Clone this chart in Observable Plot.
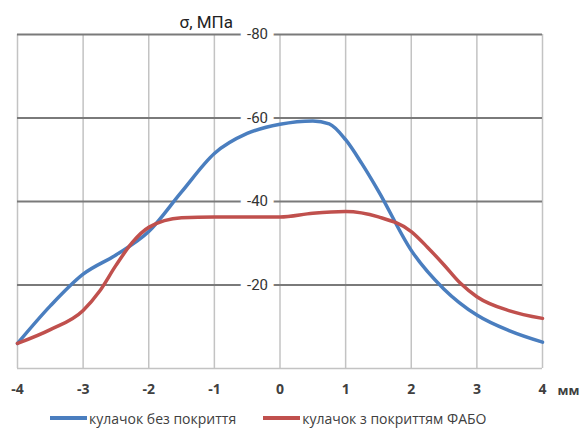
<!DOCTYPE html>
<html>
<head>
<meta charset="utf-8">
<script src="https://cdn.jsdelivr.net/npm/d3@7"></script>
<script src="https://cdn.jsdelivr.net/npm/@observablehq/plot@0.6"></script>
<style>
  body { margin: 0; background: #fff; }
  #legend { height: 36px; display: flex; align-items: center; padding-left: 50px; font-family: "Open Sans", "Noto Sans", sans-serif; font-size: 14px; color: #404040; }
  .item { display: flex; align-items: center; margin-right: 27px; }
  .sw { width: 37px; height: 4px; margin-right: 2px; }
</style>
</head>
<body>
<div id="chart"></div>
<div id="legend"></div>
<script>
// Series names
const seriesNames = ["кулачок без покриття", "кулачок з покриттям ФАБО"];
const seriesColors = ["#4a7ebf", "#c0504d"];

// Blue: кулачок без покриття
const blueX = [-4, -3.5, -3, -2.5, -2, -1.5, -1, -0.5, 0, 0.5, 0.75, 1, 1.25, 1.5, 2, 2.5, 3, 3.5, 4];
const blueY = [-6, -15, -22.6, -27.2, -32.8, -42.3, -51.5, -56.3, -58.5, -59.3, -58.6, -54.8, -49, -42.5, -28.3, -19, -12.8, -9, -6.3];

// Red: кулачок з покриттям ФАБО
const redX = [-4, -3.5, -3, -2.75, -2.5, -2.25, -2, -1.5, -1, -0.5, 0, 0.5, 1, 1.5, 2, 2.25, 2.5, 2.75, 3, 3.5, 4];
const redY = [-6, -9.3, -13.9, -18.5, -24.7, -30.2, -33.8, -36.1, -36.3, -36.3, -36.3, -37.2, -37.6, -36.3, -32.8, -29, -24.8, -20.4, -17.2, -13.8, -12];

// Ticks
const xTicks = [-4, -3, -2, -1, 0, 1, 2, 3, 4];
const yTicks = [-80, -60, -40, -20];
const yTitle = "σ, МПа";
const xUnit = "мм";

const blue = blueX.map((x, i) => ({x, y: blueY[i]}));
const red = redX.map((x, i) => ({x, y: redY[i]}));

const chart = Plot.plot({
  width: 583,
  height: 400,
  marginLeft: 17,
  marginRight: 41,
  marginTop: 34,
  marginBottom: 32,
  x: {domain: [-4, 4]},
  y: {domain: [0, -80], axis: null},
  style: {fontFamily: "Roboto, 'Liberation Sans', sans-serif", background: "#fff", overflow: "visible"},
  marks: [
    Plot.ruleX(xTicks, {stroke: "#c3c3c3", strokeWidth: 1.5}),
    Plot.ruleY([0], {stroke: "#c3c3c3", strokeWidth: 1.5}),
    Plot.ruleY(yTicks, {stroke: "#7a7a7a", strokeWidth: 2}),
    Plot.text(yTicks, {x: () => 0, y: d => d, text: d => String(d), textAnchor: "end", dx: -12,
      fill: "#333", stroke: "#fff", strokeWidth: 13, paintOrder: "stroke", fontSize: 15}),
    Plot.text([yTitle], {x: () => 0, frameAnchor: "top", text: d => d, textAnchor: "end", lineAnchor: "bottom",
      dx: -47, dy: -7, fontSize: 17, fill: "#222"}),
    Plot.axisX({ticks: xTicks, tickSize: 0, tickPadding: 16, fontSize: 14, fontWeight: "bold", fill: "#404040",
      tickFormat: d => String(d), label: null, fontFamily: "'Open Sans', 'Noto Sans', sans-serif"}),
    Plot.text([xUnit], {x: () => 4, frameAnchor: "bottom", text: d => d, textAnchor: "start", lineAnchor: "middle",
      dx: 15, dy: 22, fontSize: 13, fontWeight: "bold", fill: "#404040", fontFamily: "'Open Sans', 'Noto Sans', sans-serif"}),
    Plot.line(blue, {x: "x", y: "y", stroke: seriesColors[0], strokeWidth: 3.5, curve: "monotone-x"}),
    Plot.line(red, {x: "x", y: "y", stroke: seriesColors[1], strokeWidth: 3.5, curve: "monotone-x"})
  ]
});
document.getElementById("chart").appendChild(chart);

const legend = document.getElementById("legend");
seriesNames.forEach((name, i) => {
  const item = document.createElement("div");
  item.className = "item";
  const sw = document.createElement("div");
  sw.className = "sw";
  sw.style.background = seriesColors[i];
  const t = document.createElement("span");
  t.textContent = name;
  item.appendChild(sw);
  item.appendChild(t);
  legend.appendChild(item);
});
</script>
</body>
</html>
